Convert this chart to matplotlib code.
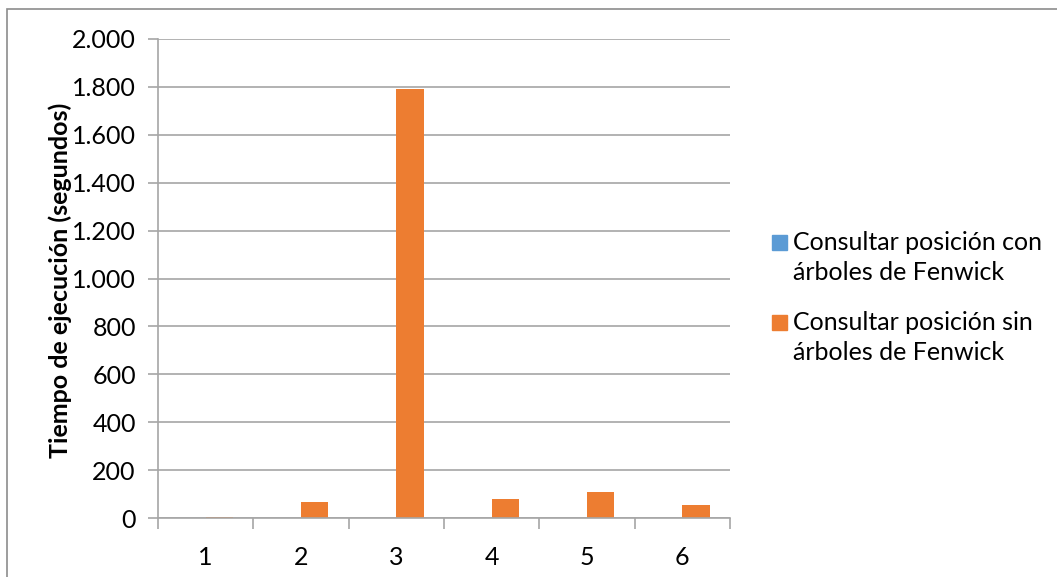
import matplotlib
matplotlib.use("Agg")
import matplotlib.pyplot as plt
from matplotlib.patches import Rectangle
from matplotlib.ticker import FuncFormatter, FixedLocator, NullFormatter
import numpy as np

plt.rcParams['font.family'] = ['Lato', 'DejaVu Sans']

# Test cases and execution times (seconds)
categories = ["1", "2", "3", "4", "5", "6"]
con_fenwick = [0.3, 0.3, 0.4, 0.3, 0.4, 0.3]
sin_fenwick = [6, 68, 1790, 78, 107, 56]
series_names = ["Consultar posición con\nárboles de Fenwick",
                "Consultar posición sin\nárboles de Fenwick"]
y_ticks = [0, 200, 400, 600, 800, 1000, 1200, 1400, 1600, 1800, 2000]
y_label = "Tiempo de ejecución (segundos)"

blue = "#5B9BD5"
orange = "#ED7D31"
grid_grey = "#A6A6A6"
colors = [blue, orange]

W, H = 1057, 577
fig = plt.figure(figsize=(W / 100, H / 100), dpi=100)


def fx(px):
    return px / W


def fy(py):
    return 1 - py / H


# outer chart frame (partially outside the canvas)
fig.patches.append(Rectangle((fx(7), -0.1), 1.2, fy(9) + 0.1,
                             transform=fig.transFigure, fill=False,
                             edgecolor="#8C8C8C", linewidth=1.2))

ax = fig.add_axes([fx(158), fy(518), fx(730 - 158), (518 - 39) / H])

x = np.arange(1, len(categories) + 1)
w = 0.285
ax.bar(x - w / 2, con_fenwick, width=w, color=blue)
ax.bar(x + w / 2, sin_fenwick, width=w, color=orange)

ax.set_xlim(0.5, len(categories) + 0.5)
ax.set_ylim(0, 2000)
ax.set_yticks(y_ticks)
ax.yaxis.set_major_formatter(FuncFormatter(lambda v, p: f"{int(v):,}".replace(",", ".")))
ax.grid(axis="y", color=grid_grey, linewidth=1.2)
ax.set_axisbelow(True)

# category labels centred, tick marks on category boundaries
ax.set_xticks(x)
ax.set_xticklabels(categories)
ax.tick_params(axis="x", length=0, pad=20, labelsize=18)
ax.xaxis.set_minor_locator(FixedLocator(np.arange(0.5, len(categories) + 1, 1)))
ax.xaxis.set_minor_formatter(NullFormatter())
ax.tick_params(axis="x", which="minor", length=8, width=1.2, color=grid_grey)
ax.tick_params(axis="y", length=7, width=1.2, color=grid_grey, pad=9, labelsize=18)

for s in ["top", "right"]:
    ax.spines[s].set_visible(False)
for s in ["left", "bottom"]:
    ax.spines[s].set_color(grid_grey)
    ax.spines[s].set_linewidth(1.2)

fig.text(fx(60), fy(280), y_label, rotation=90, ha="center", va="center",
         fontsize=18, fontweight="bold")

# legend: square marker aligned with the first line of each entry
entry_tops = [242, 322]
for name, col, yc in zip(series_names, colors, entry_tops):
    fig.patches.append(Rectangle((fx(772), fy(yc + 7.5)), fx(15), 15 / H,
                                 transform=fig.transFigure, color=col))
    for i, line in enumerate(name.split("\n")):
        fig.text(fx(793), fy(yc + 30 * i), line, ha="left", va="center",
                 fontsize=18)

fig.savefig("out.png", dpi=100)
